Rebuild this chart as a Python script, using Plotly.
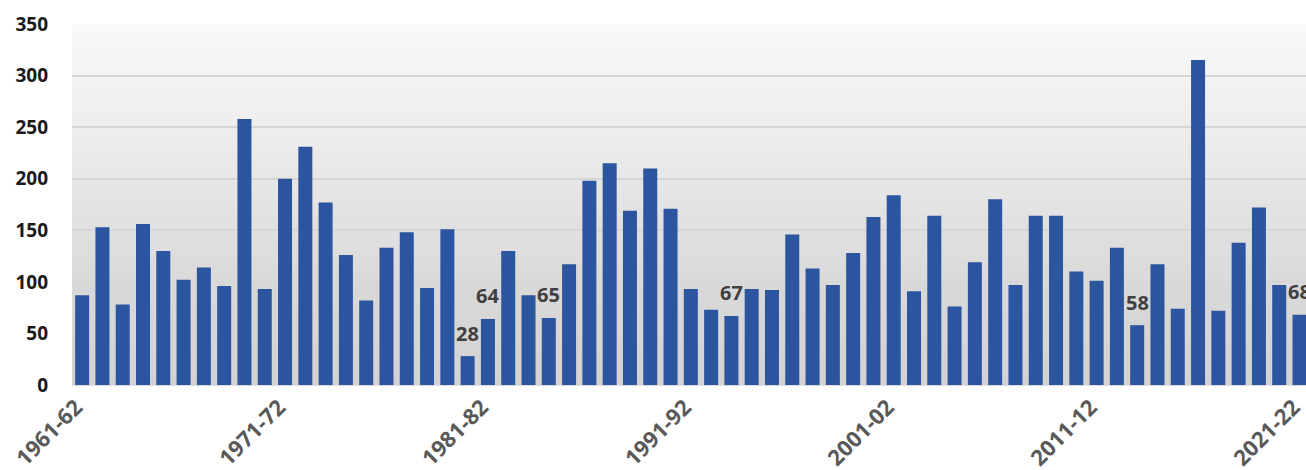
import plotly.graph_objects as go

seasons = [
    "1961-62", "1962-63", "1963-64", "1964-65", "1965-66", "1966-67", "1967-68", "1968-69", "1969-70", "1970-71",
    "1971-72", "1972-73", "1973-74", "1974-75", "1975-76", "1976-77", "1977-78", "1978-79", "1979-80", "1980-81",
    "1981-82", "1982-83", "1983-84", "1984-85", "1985-86", "1986-87", "1987-88", "1988-89", "1989-90", "1990-91",
    "1991-92", "1992-93", "1993-94", "1994-95", "1995-96", "1996-97", "1997-98", "1998-99", "1999-00", "2000-01",
    "2001-02", "2002-03", "2003-04", "2004-05", "2005-06", "2006-07", "2007-08", "2008-09", "2009-10", "2010-11",
    "2011-12", "2012-13", "2013-14", "2014-15", "2015-16", "2016-17", "2017-18", "2018-19", "2019-20", "2020-21",
    "2021-22",
]

values = [
    87, 153, 78, 156, 130, 102, 114, 96, 258, 93,
    200, 231, 177, 126, 82, 133, 148, 94, 151, 28,
    64, 130, 87, 65, 117, 198, 215, 169, 210, 171,
    93, 73, 67, 93, 92, 146, 113, 97, 128, 163,
    184, 91, 164, 76, 119, 180, 97, 164, 164, 110,
    101, 133, 58, 117, 74, 315, 72, 138, 172, 97,
    68,
]

labelled_seasons = ["1980-81", "1981-82", "1984-85", "1993-94", "2013-14", "2021-22"]
tick_seasons = ["1961-62", "1971-72", "1981-82", "1991-92", "2001-02", "2011-12", "2021-22"]
y_ticks = [0, 50, 100, 150, 200, 250, 300, 350]

BAR_COLOR = "#2c559f"

fig = go.Figure()
fig.add_trace(go.Bar(
    x=seasons,
    y=values,
    marker=dict(color=BAR_COLOR, line=dict(width=0)),
    hoverinfo="x+y",
))

# data labels
for s in labelled_seasons:
    v = values[seasons.index(s)]
    fig.add_annotation(
        x=s, y=v, text=str(v), showarrow=False,
        yanchor="middle", yshift=23,
        font=dict(family="Open Sans", size=20, color="#404040", weight="bold"),
    )

# vertical gradient background for plot area
def shade(t):
    stops = [(0.0, 249), (0.3, 237), (0.55, 225), (0.75, 216), (1.0, 211)]
    for (t0, c0), (t1, c1) in zip(stops[:-1], stops[1:]):
        if t <= t1:
            f = (t - t0) / (t1 - t0)
            c = round(c0 + (c1 - c0) * f)
            return f"rgb({c},{c},{c})"
    return f"rgb({stops[-1][1]},{stops[-1][1]},{stops[-1][1]})"

n = 60
shapes = []
for i in range(n):
    y1 = 1 - i / n
    y0 = 1 - (i + 1) / n
    shapes.append(dict(
        type="rect", xref="paper", yref="paper",
        x0=0, x1=1, y0=y0 - 0.002, y1=y1 + 0.002 if i else y1,
        fillcolor=shade((i + 0.5) / n), line=dict(width=0), layer="below",
    ))

fig.update_layout(
    width=1306, height=470,
    margin=dict(l=72, r=0, t=24, b=85),
    paper_bgcolor="white",
    plot_bgcolor="rgba(0,0,0,0)",
    showlegend=False,
    bargap=0.31,
    shapes=shapes,
    xaxis=dict(
        type="category",
        range=[-0.5, 60.32],
        tickmode="array",
        tickvals=tick_seasons,
        ticktext=tick_seasons,
        tickangle=-45,
        tickfont=dict(family="Open Sans", size=22, color="#595959", weight="bold"),
        showgrid=False,
        showline=False,
        ticks="",
        zeroline=False,
        automargin=False,
        ticklabelstandoff=4,
        ticklabelshift=-6,
    ),
    yaxis=dict(
        range=[0, 350],
        tickmode="array",
        tickvals=y_ticks,
        tickfont=dict(family="Open Sans", size=19, color="#1a1a1a", weight="bold"),
        showgrid=True,
        gridcolor="#d6d6d6",
        gridwidth=1.5,
        zeroline=False,
        showline=False,
        ticks="",
        ticklabelstandoff=23,
        automargin=False,
    ),
)

fig.write_html(
    "out.html",
    config={"displayModeBar": False},
    post_script="document.body.style.margin='0px'; document.body.style.overflow='hidden';",
)
